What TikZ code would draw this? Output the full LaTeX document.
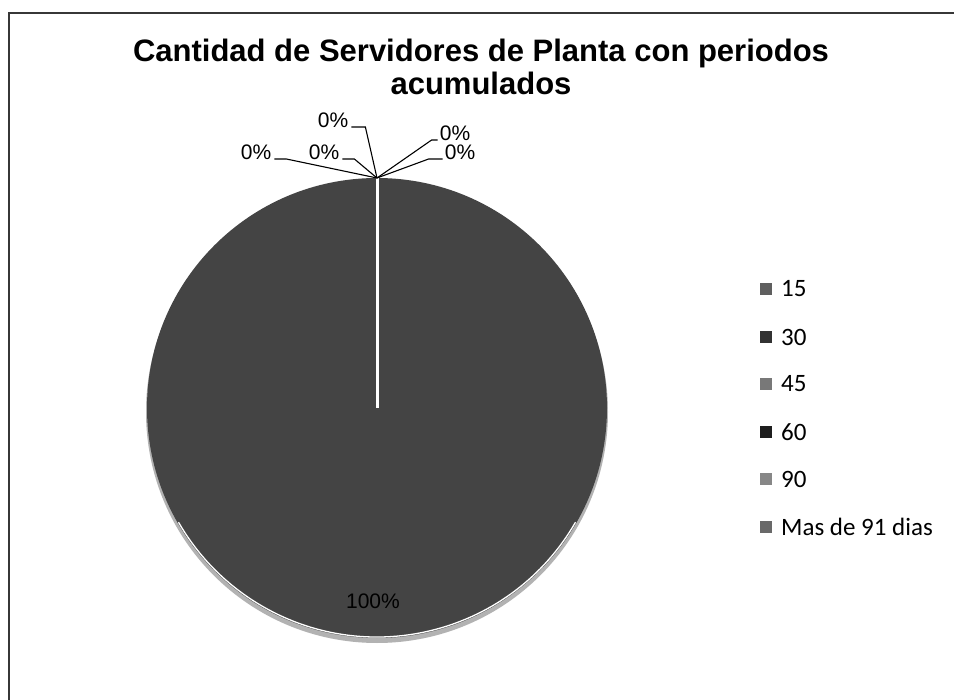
\documentclass[tikz,border=0pt]{standalone}
\usepackage{fontspec}
\setmainfont{Liberation Sans}
\newfontfamily\legfont{Carlito}
\definecolor{piegray}{RGB}{68,68,68}
\definecolor{frame}{RGB}{55,55,55}
\definecolor{cA}{RGB}{95,95,95}
\definecolor{cB}{RGB}{50,50,50}
\definecolor{cC}{RGB}{120,120,120}
\definecolor{cD}{RGB}{30,30,30}
\definecolor{cE}{RGB}{135,135,135}
\definecolor{cF}{RGB}{105,105,105}
\begin{document}
\begin{tikzpicture}[x=1pt,y=-1pt,
  titlefont/.style={font=\fontsize{31}{34}\selectfont\bfseries, anchor=base, inner sep=0pt},
  pctlabel/.style={font=\fontsize{21}{23}\selectfont, inner sep=0pt},
  leader/.style={draw=black, line width=1.1pt},
  legbox/.style={minimum width=12pt, minimum height=12pt, inner sep=0pt, draw=none},
  legtext/.style={font=\legfont\fontsize{25}{27}\selectfont, anchor=west, inner sep=0pt}]
\useasboundingbox (0,0) rectangle (954,700);
\fill[white] (0,0) rectangle (954,700);
% frame
\draw[frame, line width=2pt] (9,702) -- (9,13) -- (956,13);
% title
\node[titlefont] (t1) at (481,62) {Cantidad de Servidores de Planta con periodos};
\node[titlefont] (t2) at (481,95) {acumulados};
% pie
\coordinate (ctr) at (377,408);
\coordinate (apex) at (377,178);
\fill[black!30] (377,412) circle[radius=231];
\fill[piegray] (ctr) circle[radius=230];
\draw[white, line width=1.3pt, line cap=round] (ctr) ++(30:229) arc[start angle=30, end angle=150, radius=229];
\draw[white, line width=3pt] (ctr) -- (apex);
\node[font=\fontsize{21}{23}\selectfont, text=black, inner sep=0pt] (p100) at (373,601) {100\%};
% zero labels
\node[pctlabel] (l1) at (256,152) {0\%};
\node[pctlabel] (l2) at (324,152) {0\%};
\node[pctlabel] (l3) at (333,120) {0\%};
\node[pctlabel] (l4) at (455,133) {0\%};
\node[pctlabel] (l5) at (460,152) {0\%};
\draw[leader] (l1.east) ++(3,7) coordinate (a1) -- ++(12,0) -- (apex);
\draw[leader] (l2.east) ++(3,7) coordinate (a2) -- ++(12,0) -- (apex);
\draw[leader] (l3.east) ++(3,7) coordinate (a3) -- ++(14,0) -- (apex);
\draw[leader] (l4.west) ++(-2,7) coordinate (a4) -- ++(-6,0) -- (apex);
\draw[leader] (l5.west) ++(-2,7) coordinate (a5) -- ++(-14,0) -- (apex);
% legend
\node[legbox, fill=cA] (s1) at (766,289) {};
\node[legbox, fill=cB] (s2) at (766,337) {};
\node[legbox, fill=cC] (s3) at (766,384) {};
\node[legbox, fill=cD] (s4) at (766,432) {};
\node[legbox, fill=cE] (s5) at (766,479) {};
\node[legbox, fill=cF] (s6) at (766,527) {};
\node[legtext] (g1) at (781,289) {15};
\node[legtext] (g2) at (781,337) {30};
\node[legtext] (g3) at (781,384) {45};
\node[legtext] (g4) at (781,432) {60};
\node[legtext] (g5) at (781,479) {90};
\node[legtext] (g6) at (781,527) {Mas de 91 dias};
\end{tikzpicture}
\end{document}
